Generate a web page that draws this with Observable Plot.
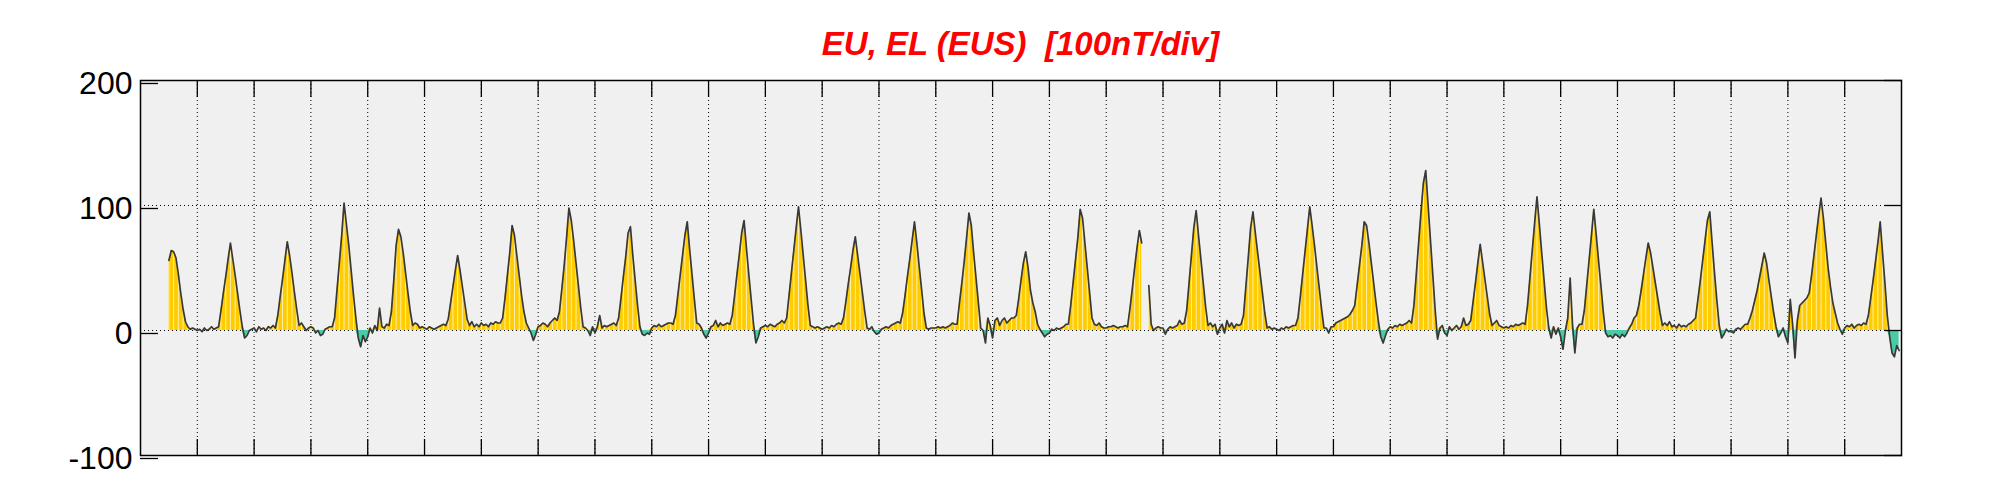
<!DOCTYPE html>
<html>
<head>
<meta charset="utf-8">
<script src="https://cdn.jsdelivr.net/npm/d3@7"></script>
<script src="https://cdn.jsdelivr.net/npm/@observablehq/plot@0.6"></script>
<style>
  html, body { margin: 0; padding: 0; background: #fff; }
  #wrap { position: relative; width: 2001px; height: 500px; }
  #title {
    position: absolute; left: 140px; width: 1761px; top: 25px;
    text-align: center; white-space: pre;
    font: italic bold 33px "Liberation Sans", Arial, sans-serif;
    line-height: 37px; color: #f00;
  }
</style>
</head>
<body>
<div id="wrap"><div id="title"></div></div>
<script>
// ---- chart text & ticks ----
const title = "EU, EL (EUS)  [100nT/div]";
const yTicks = [-100, 0, 100, 200];
const dayTicks = [1, 2, 3, 4, 5, 6, 7, 8, 9, 10, 11, 12, 13, 14, 15, 16, 17, 18, 19, 20, 21, 22, 23, 24, 25, 26, 27, 28, 29, 30];
const daysInMonth = 31;
const samplesPerDay = 24; // hourly values

// ---- hourly E values (nT), one line per day (h00 .. h23); null = no data ----
const eValues = [
  null, null, null, null, null, null, null, null, null, null, null, null, 56, 64, 63, 58, 45, 30, 17, 7, 3, 1, 2, 1,
  0, 1, -1, 2, 0, 1, 3, 1, 2, 3, 16, 30, 43, 57, 70, 57, 44, 30, 16, 3, -6, -4, 0, 1,
  2, -1, 3, 1, 2, 0, 3, 2, 4, 2, 12, 27, 41, 56, 71, 60, 46, 31, 17, 4, 6, 3, 0, 2,
  3, 2, -2, 0, -4, -3, 1, 2, 3, 3, 10, 32, 54, 76, 102, 85, 68, 48, 28, 10, -6, -13, -4, -9,
  -5, 2, -2, 4, 0, 18, 3, 2, 5, 4, 15, 40, 68, 81, 75, 62, 46, 30, 15, 4, 6, 5, 2, 3,
  2, 1, 3, 2, 1, 2, 3, 4, 5, 4, 9, 22, 35, 48, 60, 48, 35, 22, 9, 4, 7, 3, 5, 3,
  6, 4, 5, 3, 6, 5, 7, 6, 6, 10, 26, 44, 62, 84, 76, 60, 44, 28, 15, 6, 2, -2, -8, -3,
  3, 4, 6, 5, 3, 6, 8, 10, 8, 15, 33, 52, 74, 98, 88, 72, 54, 36, 18, 3, 2, 0, -4, 3,
  -2, 3, 12, 2, 4, 3, 4, 5, 6, 4, 10, 26, 43, 59, 78, 83, 60, 40, 20, 3, -3, -4, -2, -3,
  2, 4, 3, 5, 3, 4, 5, 6, 6, 5, 12, 28, 44, 60, 76, 87, 65, 45, 25, 6, 5, 2, -3, -6,
  -2, 3, 4, 8, 3, 6, 4, 5, 6, 5, 12, 28, 45, 61, 78, 88, 66, 45, 25, 5, -10, -5, 2, 3,
  4, 3, 5, 4, 3, 5, 6, 8, 6, 10, 28, 46, 64, 82, 99, 80, 60, 40, 20, 4, 3, 2, 3, 2,
  1, 2, 3, 2, 4, 3, 5, 6, 5, 10, 23, 37, 50, 64, 75, 60, 45, 30, 15, 2, 1, 3, -1, -3,
  -2, 1, 2, 3, 2, 4, 5, 6, 7, 6, 14, 28, 43, 57, 72, 87, 70, 51, 33, 14, 2, 1, 2, 2,
  2, 3, 2, 3, 2, 3, 4, 6, 5, 5, 22, 38, 55, 74, 94, 84, 62, 42, 22, 2, 0, -10, 10, 4,
  -6, 8, 10, 4, 8, 10, 6, 8, 10, 10, 12, 25, 40, 54, 63, 50, 32, 22, 15, 5, 1, -2, -5, -3,
  -2, 1, 0, 2, 1, 2, 3, 5, 5, 20, 38, 56, 74, 97, 90, 70, 50, 30, 10, 5, 4, 6, 3, 2,
  2, 3, 3, 4, 3, 2, 3, 3, 4, 3, 17, 33, 50, 66, 80, 70, null, null, 36, 5, 0, 2, 3, 2,
  2, -3, 1, 3, 2, 3, 4, 8, 5, 6, 16, 38, 60, 82, 96, 76, 57, 38, 19, 4, 6, 3, 5, -3,
  2, 5, -2, 8, 3, 6, 2, 5, 4, 5, 12, 35, 58, 82, 95, 78, 62, 46, 30, 14, 2, 3, 1, 2,
  1, 0, 2, 1, 3, 2, 3, 4, 4, 10, 27, 45, 63, 81, 99, 84, 68, 51, 34, 17, 2, 2, -2, 3,
  3, 6, 7, 8, 9, 10, 11, 13, 16, 20, 36, 52, 68, 87, 84, 70, 54, 38, 22, 7, -5, -10, -4, 1,
  3, 2, 4, 3, 5, 4, 5, 6, 8, 6, 20, 45, 70, 95, 118, 128, 100, 72, 44, 16, -7, 2, 4, -2,
  -4, 3, 0, 2, 4, 1, 3, 10, 4, 5, 8, 23, 38, 54, 69, 55, 41, 27, 13, 4, 6, 8, 4, 3,
  2, 3, 2, 4, 3, 5, 4, 5, 6, 5, 20, 42, 64, 86, 107, 85, 62, 40, 18, 2, -6, 3, -3, 2,
  -5, -15, 0, 10, 42, 5, -18, 2, 5, 5, 16, 36, 56, 76, 97, 77, 56, 36, 15, -2, -5, -4, -6, -3,
  -4, -6, -3, -5, -2, 2, 5, 10, 12, 20, 32, 45, 58, 70, 62, 50, 38, 26, 14, 4, 6, 4, 7, 3,
  4, 2, 5, 3, 4, 3, 5, 6, 8, 10, 25, 40, 56, 72, 88, 95, 70, 46, 24, 4, -6, -3, 1, -1,
  0, -2, 1, 2, 1, 3, 5, 5, 10, 16, 24, 32, 42, 52, 62, 54, 40, 27, 14, 3, -5, -2, 2, -5,
  -10, 25, 5, -22, 8, 20, 22, 24, 26, 30, 44, 60, 76, 92, 106, 90, 70, 50, 35, 22, 14, 6, 1, -3,
  2, 4, 3, 5, 2, 4, 5, 4, 6, 5, 12, 26, 40, 55, 70, 87, 62, 38, 12, -5, -18, -21, -12, -16
];

// ---- build table ----
const data = eValues.map((v, i) => ({t: i / samplesPerDay, v}));
const up = d => (d.v == null ? NaN : Math.max(d.v, 0));
const down = d => (d.v == null ? NaN : Math.min(d.v, 0));
const stripes = data.filter((d, i) => i % 2 === 0 && d.v != null && d.v > 0);

document.getElementById("title").textContent = title;

const dotted = {stroke: "black", strokeOpacity: 1, strokeWidth: 1, strokeDasharray: "1,3"};

const chart = Plot.plot({
  width: 2001,
  height: 500,
  marginLeft: 140,
  marginRight: 100,
  marginTop: 80,
  marginBottom: 45,
  x: {domain: [0, daysInMonth], label: null},
  y: {domain: [yTicks[0], yTicks[yTicks.length - 1]], label: null},
  style: {fontFamily: '"Liberation Sans", Arial, sans-serif', background: "transparent", color: "black", overflow: "visible"},
  marks: [
    Plot.frame({fill: "#f0f0f0"}),
    Plot.gridX(dayTicks, dotted),
    Plot.gridY([0, 100], dotted),
    Plot.areaY(data, {x: "t", y1: 0, y2: up, fill: "#ffcc00"}),
    Plot.areaY(data, {x: "t", y1: 0, y2: down, fill: "#48cca6"}),
    Plot.ruleX(stripes, {x: "t", y1: 0, y2: "v", stroke: "white", strokeWidth: 0.8, strokeOpacity: 0.85}),
    Plot.lineY(data, {x: "t", y: "v", stroke: "#383838", strokeWidth: 1.7, strokeLinejoin: "round"}),
    Plot.frame({stroke: "black", strokeWidth: 1.5}),
    Plot.axisY(yTicks, {anchor: "left", tickSize: -18, tickPadding: 26, fontSize: 32, dy: 3, label: null, tickFormat: d => String(d), strokeWidth: 1.3}),
    Plot.axisY(yTicks, {anchor: "right", tickSize: -18, tickFormat: () => "", label: null, strokeWidth: 1.3}),
    Plot.axisX(dayTicks, {anchor: "bottom", tickSize: -16, tickFormat: () => "", label: null, strokeWidth: 1.3}),
    Plot.axisX(dayTicks, {anchor: "top", tickSize: -16, tickFormat: () => "", label: null, strokeWidth: 1.3})
  ]
});
document.getElementById("wrap").appendChild(chart);
</script>
</body>
</html>
